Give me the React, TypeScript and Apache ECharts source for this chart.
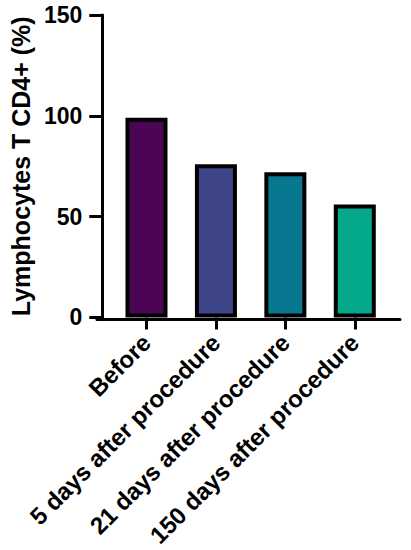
import React, { useEffect, useRef } from "react";
import * as echarts from "echarts";

const categories = ["Before", "5 days after procedure", "21 days after procedure", "150 days after procedure"];
const values = [99, 76, 72, 56];
const barColors = ["#4B0553", "#3E4589", "#087890", "#03A98A"];
const yTicks = [0, 50, 100, 150];
const yAxisTitle = "Lymphocytes T CD4+ (%)";

export default function App() {
  const ref = useRef<HTMLDivElement>(null);
  useEffect(() => {
    if (!ref.current) return;
    const chart = echarts.init(ref.current, null, { renderer: "svg" });
    const font = "'Liberation Sans', Arial, sans-serif";
    chart.setOption({
      animation: false,
      grid: [
        { left: 106.5, right: 21.5, top: 15, bottom: 231 },
        { left: 97, right: 11, top: 15, bottom: 231 },
      ],
      xAxis: [
        {
          type: "category",
          gridIndex: 0,
          data: categories,
          axisLine: { show: false },
          axisTick: { show: true, alignWithLabel: true, length: 12, lineStyle: { color: "#000", width: 3 } },
          axisLabel: {
            rotate: 45,
            interval: 0,
            margin: 21,
            color: "#000",
            fontWeight: "bold",
            fontSize: 24,
            fontFamily: font,
          },
        },
        {
          type: "value",
          gridIndex: 1,
          min: 0,
          max: 1,
          axisLine: { show: true, lineStyle: { color: "#000", width: 3 } },
          axisTick: { show: false },
          axisLabel: { show: false },
          splitLine: { show: false },
        },
      ],
      yAxis: [
        {
          type: "value",
          gridIndex: 0,
          min: yTicks[0],
          max: yTicks[yTicks.length - 1],
          interval: 50,
          offset: 9.5,
          name: yAxisTitle,
          nameLocation: "middle",
          nameGap: 64,
          nameTextStyle: { color: "#000", fontWeight: "bold", fontSize: 25, fontFamily: font },
          axisLine: { show: true, lineStyle: { color: "#000", width: 3 } },
          axisTick: { show: true, length: 13, lineStyle: { color: "#000", width: 3 } },
          axisLabel: { margin: 20, color: "#000", fontWeight: "bold", fontSize: 23, fontFamily: font },
          splitLine: { show: false },
        },
        { type: "value", gridIndex: 1, show: false, min: 0, max: 1 },
      ],
      series: [
        {
          type: "bar",
          xAxisIndex: 0,
          yAxisIndex: 0,
          barWidth: 42,
          data: values.map((v, i) => ({
            value: v,
            itemStyle: { color: barColors[i], borderColor: "#000", borderWidth: 4 },
          })),
        },
      ],
    });
    return () => chart.dispose();
  }, []);
  return <div ref={ref} style={{ position: "fixed", left: 0, top: 0, width: 411, height: 550, background: "#fff" }} />;
}
